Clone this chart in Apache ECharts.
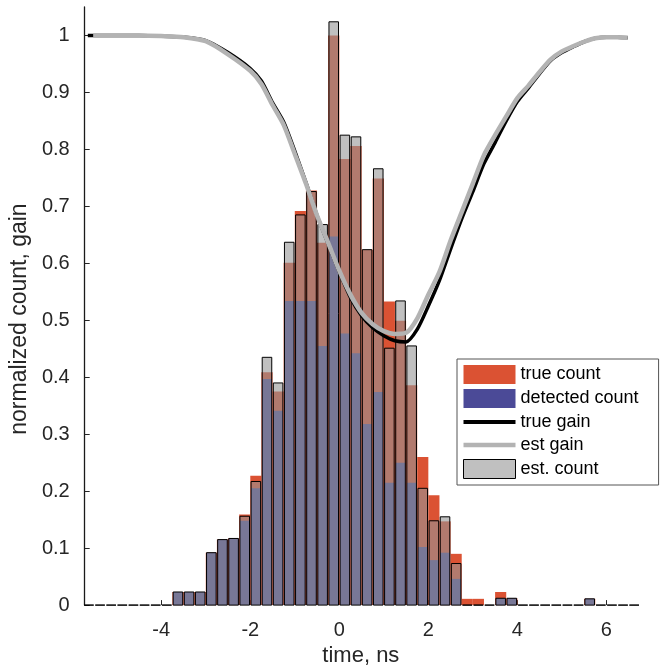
<!DOCTYPE html>
<html><head><meta charset="utf-8">
<script src="https://cdn.jsdelivr.net/npm/echarts@6/dist/echarts.min.js"></script>
<style>html,body{margin:0;padding:0;background:#fff}#chart{width:662px;height:672px}</style>
</head><body><div id="chart"></div>
<script>
const binWidth = 0.25;
const binCenters = [-5.625,-5.375,-5.125,-4.875,-4.625,-4.375,-4.125,-3.875,
  -3.625,-3.375,-3.125,-2.875,-2.625,-2.375,-2.125,-1.875,-1.625,-1.375,-1.125,-0.875,-0.625,-0.375,-0.125,
  0.125,0.375,0.625,0.875,1.125,1.375,1.625,1.875,2.125,2.375,2.625,2.875,3.125,3.375,3.625,3.875,
  4.125,4.375,4.625,4.875,5.125,5.375,5.625,5.875,6.125,6.375,6.625];
const trueCount = [0,0,0,0,0,0,0,0,
  0.023,0.023,0.023,0.092,0.115,0.117,0.159,0.227,0.409,0.375,0.601,0.692,0.728,0.636,1.000,
  0.783,0.806,0.624,0.749,0.533,0.499,0.386,0.260,0.193,0.147,0.090,0.011,0.011,0,0.023,0.012,
  0,0,0,0,0,0,0.011,0,0,0,0];
const detectedCount = [0,0,0,0,0,0,0,0,
  0.023,0.023,0.023,0.092,0.115,0.117,0.148,0.205,0.397,0.341,0.534,0.534,0.534,0.455,0.647,
  0.477,0.442,0.318,0.374,0.215,0.250,0.215,0.102,0.079,0.092,0.046,0,0,0,0.012,0.012,
  0,0,0,0,0,0,0.011,0,0,0,0];
const estCount = [0,0,0,0,0,0,0,0,
  0.023,0.023,0.023,0.092,0.115,0.117,0.156,0.217,0.435,0.390,0.637,0.685,0.726,0.668,1.024,
  0.825,0.822,0.624,0.766,0.451,0.534,0.455,0.205,0.148,0.155,0.073,0,0,0,0.012,0.012,
  0,0,0,0,0,0,0.011,0,0,0,0];
const trueGainTime = [-5.65,-5,-4.5,-4,-3.5,-3,-2.5,-2,-1.75,-1.5,-1.25,-1,-0.75,-0.5,-0.25,0,0.25,0.5,0.75,1,1.25,1.5,1.75,2,2.25,2.5,2.75,3,3.25,3.5,3.75,4,4.25,4.5,4.75,5,5.25,5.5,5.75,6,6.25,6.48];
const trueGain = [1.0,1.0,1.0,0.999,0.997,0.991,0.970,0.942,0.920,0.882,0.848,0.797,0.742,0.684,0.634,0.585,0.540,0.508,0.487,0.473,0.464,0.462,0.484,0.525,0.570,0.625,0.678,0.726,0.775,0.812,0.850,0.884,0.908,0.933,0.956,0.970,0.980,0.989,0.995,0.997,0.997,0.996];
const estGainTime = [-5.53,-5,-4.5,-4,-3.5,-3,-2.5,-2,-1.75,-1.5,-1.25,-1,-0.75,-0.5,-0.25,0,0.25,0.5,0.75,1,1.25,1.5,1.75,2,2.25,2.5,2.75,3,3.25,3.5,3.75,4,4.25,4.5,4.75,5,5.25,5.5,5.75,6,6.25,6.48];
const estGain = [1.0,1.0,1.0,0.999,0.997,0.990,0.967,0.938,0.915,0.878,0.843,0.792,0.740,0.684,0.636,0.587,0.545,0.513,0.493,0.481,0.476,0.478,0.503,0.545,0.585,0.640,0.690,0.740,0.790,0.825,0.858,0.890,0.912,0.936,0.958,0.972,0.981,0.989,0.995,0.997,0.997,0.996];
const xTicks = [-4,-2,0,2,4,6];
const yTicks = [0,0.1,0.2,0.3,0.4,0.5,0.6,0.7,0.8,0.9,1];

const FONT = '"Liberation Sans", Arial, Helvetica, sans-serif';
const AX = '#262626';

function histRender(frac) {
  return function (params, api) {
    const c = api.value(0), v = api.value(1);
    const half = binWidth * frac / 2;
    const p0 = api.coord([c - half, v]);
    const p1 = api.coord([c + half, 0]);
    return {
      type: 'rect',
      shape: { x: p0[0], y: p0[1], width: p1[0] - p0[0], height: p1[1] - p0[1] },
      style: api.style()
    };
  };
}
const pairs = (xs, ys) => xs.map((x, i) => [x, ys[i]]);

const chart = echarts.init(document.getElementById('chart'), null, { renderer: 'canvas' });
chart.setOption({
  animation: false,
  backgroundColor: '#fff',
  textStyle: { fontFamily: FONT },
  grid: { left: 78, right: 12, top: 7, bottom: 64, containLabel: false },
  xAxis: {
    type: 'value', min: -5.72, max: 6.98,
    name: 'time, ns', nameLocation: 'middle', nameGap: 39,
    nameTextStyle: { fontSize: 22, color: AX, fontFamily: FONT, padding: [0, 13, 0, 0] },
    axisLine: { show: false, onZero: false },
    axisTick: { show: true, inside: true, length: 5, lineStyle: { color: AX }, customValues: xTicks },
    axisLabel: { fontSize: 20, color: AX, margin: 15, fontFamily: FONT, customValues: xTicks },
    splitLine: { show: false }
  },
  yAxis: {
    type: 'value', min: 0, max: 1.05, position: 'left',
    name: 'normalized count, gain', nameLocation: 'middle', nameGap: 44,
    nameTextStyle: { fontSize: 23, color: AX, fontFamily: FONT, padding: [0, 26, 0, 0] },
    axisLine: { show: true, onZero: false, lineStyle: { color: '#1a1a1a', width: 1.3 } },
    axisTick: { show: true, inside: true, length: 5, lineStyle: { color: AX }, customValues: yTicks },
    axisLabel: { fontSize: 20, color: AX, margin: 15, align: 'right', fontFamily: FONT, customValues: yTicks },
    splitLine: { show: false }
  },
  legend: {
    orient: 'vertical', left: 457, top: 359,
    padding: [6, 20, 6, 6], itemGap: 5, itemWidth: 52, itemHeight: 19,
    backgroundColor: '#fff', borderColor: '#555', borderWidth: 1,
    textStyle: { fontSize: 18, color: '#000', fontFamily: FONT },
    data: [
      { name: 'true count', icon: 'rect', itemStyle: { color: '#db5233', borderWidth: 0 } },
      { name: 'detected count', icon: 'rect', itemStyle: { color: '#4b4a97', borderWidth: 0 } },
      { name: 'true gain', icon: 'path://M0,0H52V4H0Z', itemStyle: { color: '#000', borderWidth: 0 } },
      { name: 'est gain', icon: 'path://M0,0H52V4.5H0Z', itemStyle: { color: '#b3b3b3', borderWidth: 0 } },
      { name: 'est. count', icon: 'rect', itemStyle: { color: '#c0c0c0', borderColor: '#000', borderWidth: 1 } }
    ],
    selectedMode: false
  },
  series: [
    { name: 'true count', type: 'custom', renderItem: histRender(1.0),
      itemStyle: { color: '#db5233' }, encode: { x: 0, y: 1 },
      data: pairs(binCenters, trueCount) },
    { name: 'detected count', type: 'custom', renderItem: histRender(0.86),
      itemStyle: { color: '#4b4a97' }, encode: { x: 0, y: 1 },
      data: pairs(binCenters, detectedCount) },
    { name: 'true gain', type: 'line', symbol: 'none', showSymbol: false, smooth: 0.25,
      lineStyle: { color: '#000', width: 3.5 }, itemStyle: { color: '#000' },
      data: pairs(trueGainTime, trueGain) },
    { name: 'est gain', type: 'line', symbol: 'none', showSymbol: false, smooth: 0.25,
      lineStyle: { color: '#b3b3b3', width: 4.5 }, itemStyle: { color: '#b3b3b3' },
      data: pairs(estGainTime, estGain) },
    { name: 'est. count', type: 'custom', renderItem: histRender(0.86),
      itemStyle: { color: 'rgba(150,150,150,0.6)', borderColor: '#000', borderWidth: 1 }, encode: { x: 0, y: 1 },
      data: pairs(binCenters, estCount) }
  ]
});
</script></body></html>
